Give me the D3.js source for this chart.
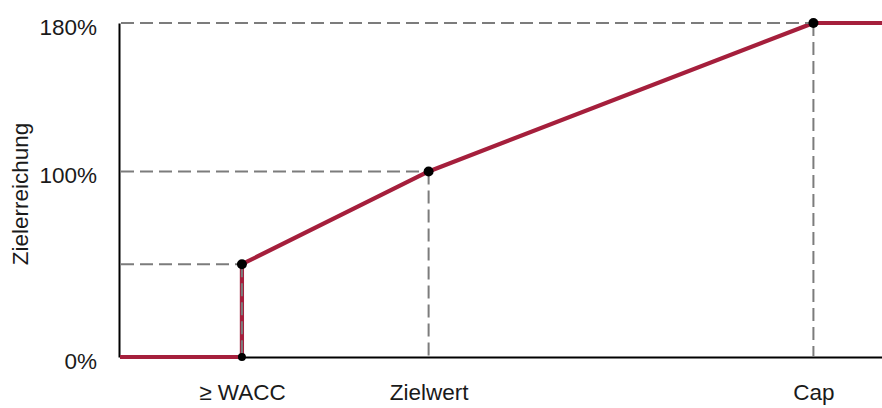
<!DOCTYPE html>
<html>
<head>
<meta charset="utf-8">
<script src="https://cdn.jsdelivr.net/npm/d3@7"></script>
<style>
  html, body { margin: 0; padding: 0; background: #fff; }
  svg { display: block; }
  text { font-family: "Liberation Sans", Arial, sans-serif; fill: #1a1a1a; }
</style>
</head>
<body>
<svg id="chart" width="882" height="408"></svg>
<script>
// Payout curve: target achievement (%) against performance level
const curveX = [0, 1.6, 1.6, 4.05, 9.1, 10];
const curveY = [0, 0, 50, 100, 180, 180];

// Marked points on the curve
const markX = [1.6, 1.6, 4.05, 9.1];
const markY = [0, 50, 100, 180];

// Axis labels
const yTickValues = [0, 100, 180];
const yTickLabels = ["0%", "100%", "180%"];
const xTickValues = [1.6, 4.05, 9.1];
const xTickLabels = ["≥ WACC", "Zielwert", "Cap"];
const yTitle = "Zielerreichung";

const svg = d3.select("#chart");
const plotLeft = 120, plotRight = 882, plotTop = 23, plotBottom = 357;

const x = d3.scaleLinear().domain([0, 10]).range([plotLeft, plotRight]);
const y = d3.scaleLinear().domain([0, 180]).range([plotBottom, plotTop]);

// Axes
const yAxis = d3.axisLeft(y).tickValues(yTickValues)
  .tickFormat((d, i) => yTickLabels[i]).tickSize(0).tickPadding(22);
const gy = svg.append("g").attr("transform", `translate(${plotLeft - 1},0)`).call(yAxis);
gy.select(".domain").attr("stroke", "#000").attr("stroke-width", 2);
gy.selectAll("text").attr("font-size", 22.5).attr("dy", "0.5em")
  .attr("font-family", "Liberation Sans, Arial, sans-serif").attr("fill", "#1a1a1a");

const xAxis = d3.axisBottom(x).tickValues(xTickValues)
  .tickFormat((d, i) => xTickLabels[i]).tickSize(0).tickPadding(27);
const gx = svg.append("g").attr("transform", `translate(0,${plotBottom})`).call(xAxis);
gx.select(".domain").attr("stroke", "#000").attr("stroke-width", 2);
gx.selectAll("text").attr("font-size", 22.5)
  .attr("font-family", "Liberation Sans, Arial, sans-serif").attr("fill", "#1a1a1a");

// Y-axis title
svg.append("text")
  .attr("transform", `translate(28,194) rotate(-90)`)
  .attr("text-anchor", "middle")
  .attr("font-size", 22.5)
  .text(yTitle);

// Curve
const line = d3.line().x((d, i) => x(curveX[i])).y((d, i) => y(curveY[i]));
svg.append("path")
  .datum(curveX)
  .attr("d", line)
  .attr("fill", "none")
  .attr("stroke", "#a51f3c")
  .attr("stroke-width", 4.2)
  .attr("stroke-linejoin", "round");

// Guide lines from the marked points to both axes
const guides = svg.append("g")
  .attr("stroke", "#7c7c7c")
  .attr("stroke-width", 2)
  .attr("stroke-dasharray", "13,6")
  .attr("fill", "none");
markX.forEach((mx, i) => {
  if (markY[i] > 0) {
    guides.append("line")
      .attr("x1", plotLeft + 1).attr("x2", x(mx))
      .attr("y1", y(markY[i])).attr("y2", y(markY[i]));
    guides.append("line")
      .attr("x1", x(mx)).attr("x2", x(mx))
      .attr("y1", y(markY[i])).attr("y2", plotBottom);
  }
});

// Point markers
svg.append("g").selectAll("circle")
  .data(markX)
  .join("circle")
  .attr("cx", d => x(d))
  .attr("cy", (d, i) => y(markY[i]))
  .attr("r", (d, i) => markY[i] === 0 ? 4 : 5)
  .attr("fill", "#000");
</script>
</body>
</html>
